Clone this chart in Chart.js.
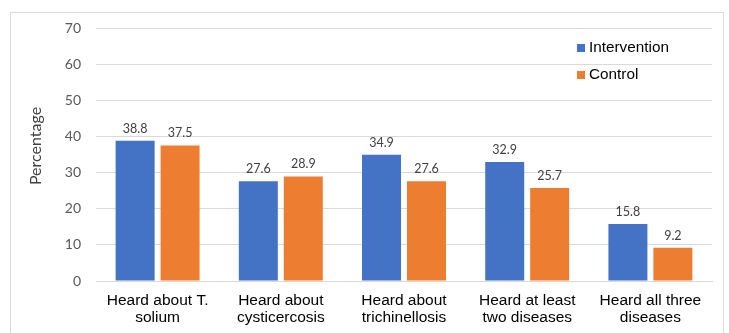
<!DOCTYPE html>
<html><head><meta charset="utf-8">
<script src="https://cdn.jsdelivr.net/npm/chart.js@4.4.1/dist/chart.umd.min.js"></script>
<style>
html,body{margin:0;padding:0;background:#fff;}
#wrap{position:relative;width:729px;height:333px;}
#frame{position:absolute;left:10px;top:12px;width:714px;height:340px;border:1px solid #d9d9d9;box-sizing:border-box;}
canvas{position:absolute;left:0;top:0;}
</style></head>
<body>
<div id="wrap"><div id="frame"></div><canvas id="c" width="729" height="333"></canvas></div>
<script>
const categories = [["Heard about T.","solium"],["Heard about","cysticercosis"],["Heard about","trichinellosis"],["Heard at least","two diseases"],["Heard all three","diseases"]];
const seriesNames = ["Intervention","Control"];
const intervention = [38.8, 27.6, 34.9, 32.9, 15.8];
const control = [37.5, 28.9, 27.6, 25.7, 9.2];
const yTicks = [0,10,20,30,40,50,60,70];
const yTitle = "Percentage";
const colors = ["#4472C4","#ED7D31"];

const labelPlugin = {
  id:'vals',
  afterDatasetsDraw(chart){
    const ctx = chart.ctx;
    ctx.save();
    ctx.font = '12.5px Lato';
    ctx.fillStyle = '#404040';
    ctx.textAlign = 'center';
    ctx.textBaseline = 'bottom';
    chart.data.datasets.forEach((ds,i)=>{
      chart.getDatasetMeta(i).data.forEach((bar,j)=>{
        ctx.fillText(ds.data[j].toFixed(1), bar.x, bar.y - 6);
      });
    });
    ctx.restore();
  }
};
const legendPlugin = {
  id:'leg',
  afterDraw(chart){
    const ctx = chart.ctx;
    ctx.save();
    ctx.font = '15.3px "Liberation Sans", Arial';
    ctx.textBaseline = 'middle';
    ctx.textAlign = 'left';
    chart.data.datasets.forEach((ds,i)=>{
      const y = 48 + i*27;
      ctx.fillStyle = ds.backgroundColor;
      ctx.fillRect(577, y-4, 8, 8);
      ctx.fillStyle = '#000';
      ctx.fillText(ds.label, 589, y);
    });
    // y axis title
    ctx.font = '16px Lato';
    ctx.fillStyle = '#404040';
    ctx.textAlign = 'center';
    ctx.translate(36, 146);
    ctx.rotate(-Math.PI/2);
    ctx.fillText(yTitle, 0, 0);
    ctx.restore();
  }
};

new Chart(document.getElementById('c'), {
  type:'bar',
  data:{
    labels: categories,
    datasets:[
      {label:seriesNames[0], data:intervention, backgroundColor:colors[0]},
      {label:seriesNames[1], data:control, backgroundColor:colors[1]}
    ]
  },
  options:{
    responsive:false,
    animation:false,
    devicePixelRatio:1,
    layout:{padding:{left:27,right:17,top:28,bottom:0}},
    datasets:{bar:{categoryPercentage:0.73, barPercentage:0.867}},
    plugins:{legend:{display:false}, tooltip:{enabled:false}},
    scales:{
      x:{
        grid:{display:false, drawTicks:false},
        border:{display:true, color:'#d9d9d9', width:1},
        ticks:{color:'#000', font:{family:'"Liberation Sans", Arial', size:15.5, lineHeight:1.1}, padding:11, maxRotation:0, autoSkip:false},
        afterFit(s){ s.height = 52; }
      },
      y:{
        min:0, max:70,
        afterBuildTicks(s){ s.ticks = yTicks.map(v=>({value:v})); },
        grid:{color:'#d9d9d9', drawTicks:false, lineWidth:1},
        border:{display:false},
        ticks:{color:'#595959', font:{family:'Lato', size:14}, padding:15},
        afterFit(s){ s.width = 69; }
      }
    }
  },
  plugins:[labelPlugin, legendPlugin]
});
</script>
</body></html>
